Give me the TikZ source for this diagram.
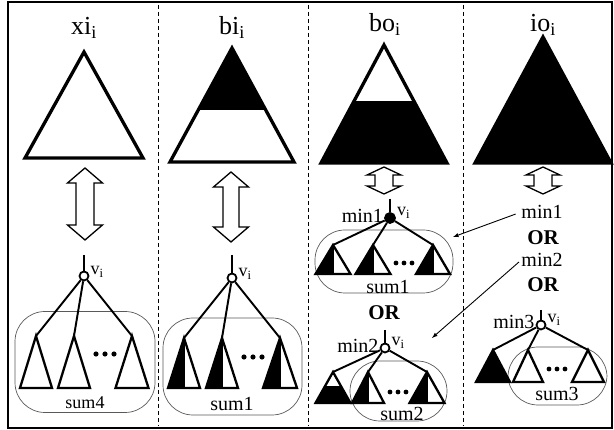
\documentclass[tikz,border=0pt]{standalone}
\usepackage{fontspec}
\setmainfont{Liberation Serif}
\usepackage{tikz}
\usetikzlibrary{arrows}
\usetikzlibrary{positioning}

\tikzset{
  outer/.style={line width=1.4pt},
  divider/.style={dashed, line width=0.9pt, dash pattern=on 4pt off 3pt},
  bigtri/.style={line width=3.3pt},
  tri/.style={line width=2.3pt},
  branch/.style={line width=1.9pt},
  hollow/.style={line width=1.3pt, fill=white},
  pointer/.style={-latex, line width=0.9pt},
  blob/.style={draw=black!65, line width=0.7pt, rounded corners=30pt, rectangle, inner sep=0pt},
  rootnode/.style={draw, circle, line width=1.8pt, fill=white, inner sep=0pt, minimum size=9pt},
  coltitle/.style={font=\fontsize{26}{26}\selectfont, anchor=base},
  lbl/.style={font=\fontsize{20}{20}\selectfont, inner sep=0pt},
  vlbl/.style={font=\fontsize{18}{18}\selectfont, inner sep=0pt},
  orlbl/.style={font=\fontsize{21}{21}\selectfont\bfseries, inner sep=0pt},
}

% white subtree: apex, half width, height
\newcommand{\wtri}[3]{\draw[tri, fill=white] (#1) -- ++(-#2,#3) -- ++(2*#2,0) -- cycle;}
% black subtree
\newcommand{\btri}[3]{\draw[tri, fill=black] (#1) -- ++(-#2,#3) -- ++(2*#2,0) -- cycle;}
% left half black
\newcommand{\htri}[3]{%
  \fill[white] (#1) -- ++(-#2,#3) -- ++(2*#2,0) -- cycle;
  \fill (#1) -- ++(-#2,#3) -- ++(#2,0) -- cycle;
  \draw[tri] (#1) -- ++(-#2,#3) -- ++(2*#2,0) -- cycle;
  \draw[tri] (#1) -- ++(0,#3);}
% white top, black bottom: apex, half width, height, depth of cut
\newcommand{\ttri}[4]{%
  \begin{scope}
    \clip (#1) -- ++(-#2,#3) -- ++(2*#2,0) -- cycle;
    \fill (#1) ++(-#2,#4) rectangle ++(2*#2,#3);
  \end{scope}
  \draw[tri] (#1) -- ++(-#2,#3) -- ++(2*#2,0) -- cycle;}
% hollow double arrow: top tip, length, head height, half head width, half shaft width
\newcommand{\dblarr}[5]{\draw[hollow] (#1) -- ++(#4,#3) -- ++(-#4+#5,0) -- ++(0,#2-2*#3) -- ++(#4-#5,0) -- ++(-#4,#3) -- ++(-#4,-#3) -- ++(#4-#5,0) -- ++(0,-#2+2*#3) -- ++(-#4+#5,0) -- cycle;}

\begin{document}
\begin{tikzpicture}[x=1pt, y=-1pt]
\useasboundingbox (0,0) rectangle (614,430);

% Frame and column dividers
\draw[outer] (8,2) rectangle (612,428);
\foreach \xd in {158,308,463}
  \draw[divider] (\xd,5) -- (\xd,426);

% Column titles (nodes)
\node[coltitle] (xi) at (84,35) {xi\textsubscript{i}};
\node[coltitle] (bi) at (232,35) {bi\textsubscript{i}};
\node[coltitle] (bo) at (385,32) {bo\textsubscript{i}};
\node[coltitle] (io) at (543,32) {io\textsubscript{i}};

% Big triangles
\coordinate (axi) at (84,52);
\draw[bigtri] (axi) -- ++(-59,106) -- ++(118,0) -- cycle;
\coordinate (abi) at (232,48);
\begin{scope}
  \clip (abi) -- ++(-62,114) -- ++(124,0) -- cycle;
  \fill (abi) ++(-62,0) rectangle ++(124,62);
\end{scope}
\draw[bigtri] (abi) -- ++(-62,114) -- ++(124,0) -- cycle;
\coordinate (abo) at (384,45);
\begin{scope}
  \clip (abo) -- ++(-63,118) -- ++(126,0) -- cycle;
  \fill (abo) ++(-63,56) rectangle ++(126,62);
\end{scope}
\draw[bigtri] (abo) -- ++(-63,118) -- ++(126,0) -- cycle;
\coordinate (aio) at (543,37);
\draw[bigtri, fill=black] (aio) -- ++(-68,126) -- ++(136,0) -- cycle;

% Double arrows
\coordinate (dxi) at (85,168);
\dblarr{dxi}{72}{15}{17.5}{9}
\coordinate (dbi) at (231,172);
\dblarr{dbi}{70}{15}{17.5}{8}
\coordinate (dbo) at (384,167);
\dblarr{dbo}{27}{8}{17}{9}
\coordinate (dio) at (543,167);
\dblarr{dio}{27}{8}{17}{9}

% xi: tree with white subtrees
\node[blob, minimum width=140pt, minimum height=101pt] (b1) at (85,362) {};
\node[rootnode] (r1) at (84,276) {};
\coordinate (s1) at (84,255);
\draw[branch] (s1) -- (r1);
\node[vlbl, right=1pt of r1, yshift=4pt] (v1) {v\textsubscript{i}};
\coordinate (t11) at (36,336);
\coordinate (t12) at (74,336);
\coordinate (t13) at (132,336);
\foreach \t in {t11,t12,t13} \draw[branch] (r1) -- (\t);
\wtri{t11}{16}{52}
\wtri{t12}{16}{52}
\wtri{t13}{16.5}{52}
\coordinate (d1) at (105,354);
\foreach \k in {-1,0,1} \fill ([xshift=\k*9pt]d1) circle (2.6);
\node[lbl] (sum4) at (85,403) {\fontsize{18}{18}\selectfont sum4};

% bi: tree with half black subtrees
\node[blob, minimum width=139pt, minimum height=97pt] (b2) at (232.5,366.5) {};
\node[rootnode] (r2) at (232,278) {};
\coordinate (s2) at (232,255);
\draw[branch] (s2) -- (r2);
\node[vlbl, right=1pt of r2, yshift=4pt] (v2) {v\textsubscript{i}};
\coordinate (t21) at (184,338);
\coordinate (t22) at (222,338);
\coordinate (t23) at (280,338);
\foreach \t in {t21,t22,t23} \draw[branch] (r2) -- (\t);
\htri{t21}{16}{50}
\htri{t22}{16}{50}
\htri{t23}{17}{50}
\coordinate (d2) at (253,357);
\foreach \k in {-1,0,1} \fill ([xshift=\k*9pt]d2) circle (2.6);
\node[lbl] (sum1a) at (232,404) {sum1};

% bo: first tree (min1)
\node[blob, minimum width=138pt, minimum height=63pt] (b31) at (384,261.5) {};
\node[rootnode, fill=black, minimum size=10pt] (r31) at (390,218) {};
\coordinate (s31) at (390,199);
\draw[branch] (s31) -- (r31);
\node[lbl, left=1pt of r31, yshift=2pt] (m31) {min1};
\node[vlbl, right=1pt of r31, yshift=5pt] (v31) {v\textsubscript{i}};
\coordinate (t311) at (333,245);
\coordinate (t312) at (373,245);
\coordinate (t313) at (433,245);
\foreach \t in {t311,t312,t313} \draw[branch] (r31) -- (\t);
\htri{t311}{17.5}{29}
\htri{t312}{17.5}{29}
\htri{t313}{17}{29}
\coordinate (d31) at (404,263);
\foreach \k in {-1,0,1} \fill ([xshift=\k*8pt]d31) circle (2.4);
\node[lbl] (sum1b) at (388,287) {sum1};
\node[orlbl] (or3) at (384,313) {OR};

% bo: second tree (min2)
\node[blob, minimum width=97pt, minimum height=60pt] (b32) at (398.5,391) {};
\node[rootnode] (r32) at (385,348) {};
\coordinate (s32) at (385,330);
\draw[branch] (s32) -- (r32);
\node[lbl, left=1pt of r32, yshift=2pt] (m32) {min2};
\node[vlbl, right=1pt of r32, yshift=5pt] (v32) {v\textsubscript{i}};
\coordinate (t321) at (333,372);
\coordinate (t322) at (368,372);
\coordinate (t323) at (427,372);
\foreach \t in {t321,t322,t323} \draw[branch] (r32) -- (\t);
\ttri{t321}{17.5}{31}{14}
\htri{t322}{16}{31}
\htri{t323}{17.5}{31}
\coordinate (d32) at (398,392);
\foreach \k in {-1,0,1} \fill ([xshift=\k*8pt]d32) circle (2.4);
\node[lbl] (sum2) at (402,414) {sum2};

% io: choices
\node[lbl] (m41) at (542,212) {min1};
\node[orlbl] (or41) at (543,238) {OR};
\node[lbl] (m42) at (542,260) {min2};
\node[orlbl] (or42) at (543,285) {OR};
\coordinate (p1) at (453,237);
\coordinate (p2) at (432,338);
\draw[pointer, shorten <=6pt] (m41.west) -- (p1);
\draw[pointer, shorten <=3pt] (m42.west) -- (p2);

% io: third tree (min3)
\node[blob, minimum width=99pt, minimum height=58pt] (b4) at (557.5,376) {};
\node[rootnode] (r4) at (541,325) {};
\coordinate (s4) at (541,310);
\draw[branch] (s4) -- (r4);
\node[lbl, left=1pt of r4, yshift=3pt] (m43) {min3};
\node[vlbl, right=1pt of r4, yshift=5pt] (v4) {v\textsubscript{i}};
\coordinate (t41) at (493,350);
\coordinate (t42) at (528,350);
\coordinate (t43) at (588,350);
\foreach \t in {t41,t42,t43} \draw[branch] (r4) -- (\t);
\btri{t41}{17}{32}
\wtri{t42}{15}{32}
\wtri{t43}{16}{32}
\coordinate (d4) at (557,369);
\foreach \k in {-1,0,1} \fill ([xshift=\k*8pt]d4) circle (2.4);
\node[lbl] (sum3) at (557,394) {sum3};
\end{tikzpicture}
\end{document}
